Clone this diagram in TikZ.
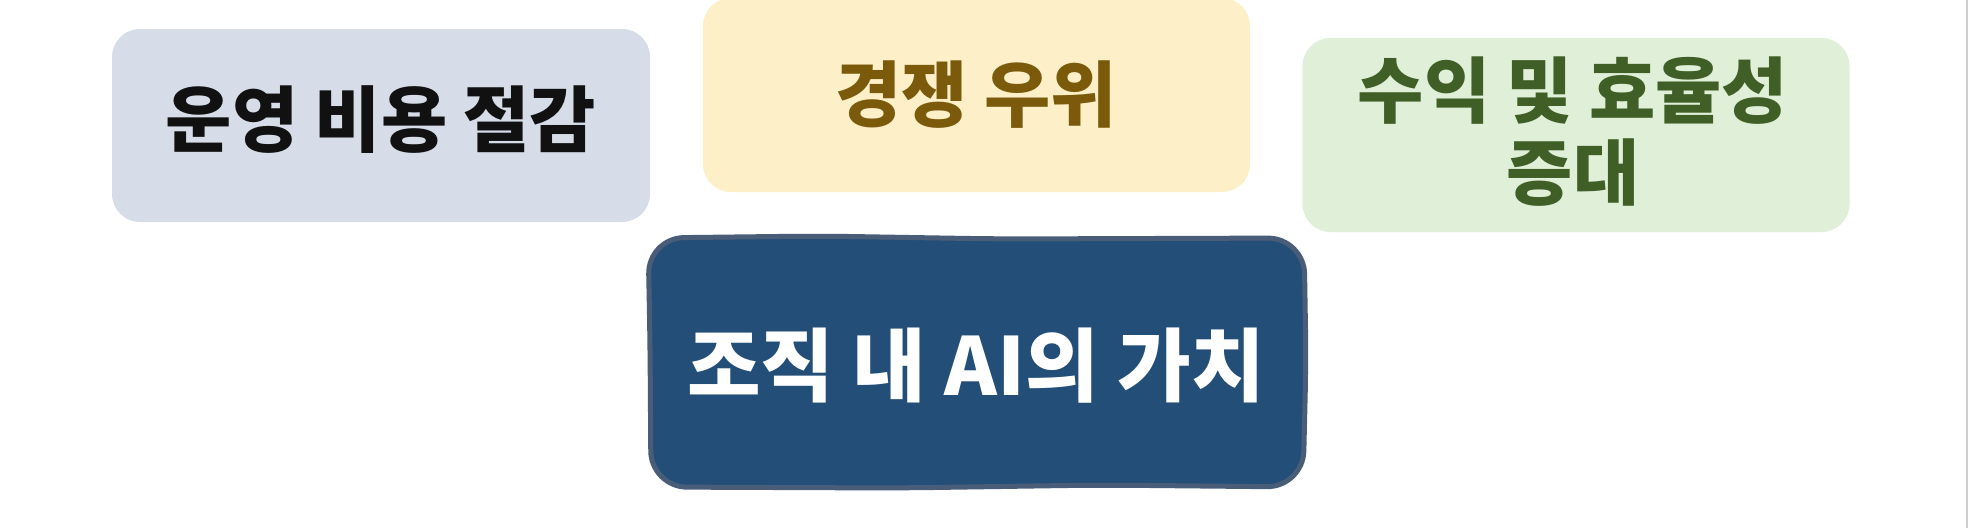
\documentclass[tikz,border=0pt]{standalone}
\usepackage{fontspec}
\setmainfont{Noto Sans CJK KR}
\definecolor{boxgray}{HTML}{D6DDE8}
\definecolor{boxyellow}{HTML}{FDF0C8}
\definecolor{boxgreen}{HTML}{E0EFD7}
\definecolor{corefill}{HTML}{234E78}
\definecolor{coreedge}{HTML}{4A5D78}
\definecolor{txtblack}{HTML}{111111}
\definecolor{txtbrown}{HTML}{7B5B0B}
\definecolor{txtgreen}{HTML}{3F5F26}
\definecolor{edgegray}{HTML}{CFCFCF}
\begin{document}
\begin{tikzpicture}[x=1pt,y=-1pt,
  lightbox/.style={rectangle, rounded corners=28pt, inner sep=0pt, draw=none},
  title/.style={inner sep=0pt, align=center, font=\fontsize{72}{82}\selectfont\bfseries},
  coretitle/.style={inner sep=0pt, text=white, font=\fontsize{80}{90}\selectfont\bfseries}]
\useasboundingbox (0,0) rectangle (1969,528);
\fill[white] (0,0) rectangle (1969,528);
\coordinate (edgetop) at (1967,0);
\coordinate (edgebot) at (1967,528);
\draw[edgegray, line width=2pt] (edgetop) -- (edgebot);
% light boxes
\node[lightbox, fill=boxgray, minimum width=538pt, minimum height=193pt] (cost) at (381,125.5) {};
\node[title, text=txtblack] (costtext) at (381,119.5) {운영 비용 절감};
\node[lightbox, fill=boxyellow, minimum width=547pt, minimum height=194pt] (comp) at (976.5,95) {};
\node[title, text=txtbrown] (comptext) at (976,94.5) {경쟁 우위};
\node[lightbox, fill=boxgreen, minimum width=547pt, minimum height=194pt] (rev) at (1576,135) {};
\node[title, text=txtgreen] (revtext) at (1573,131.5) {수익 및 효율성\\증대};
% core box
\draw[line width=5pt, draw=coreedge, fill=corefill, rounded corners=36pt]
  (650,340) -- (648,238) -- (820,236) -- (1000,239) -- (1304,238) -- (1306,360) -- (1303,487)
  -- (1100,485) -- (900,488) -- (651,487) -- cycle;
\node[coretitle] (core) at (976,366) {조직 내 AI의 가치};
\end{tikzpicture}
\end{document}
